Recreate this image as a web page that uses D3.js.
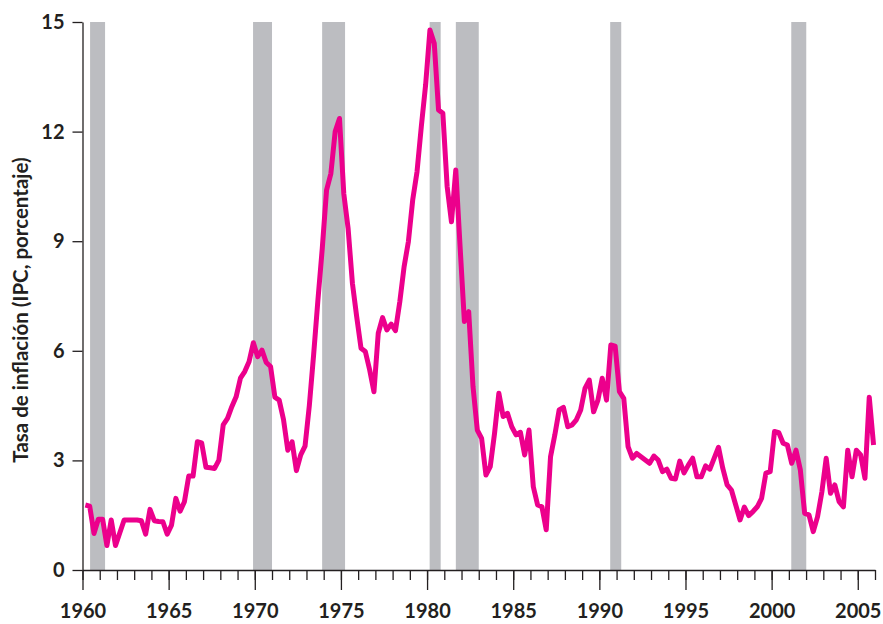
<!DOCTYPE html>
<html>
<head>
<meta charset="utf-8">
<script src="https://cdn.jsdelivr.net/npm/d3@7"></script>
<style>
  body { margin: 0; background: #fff; }
  svg { display: block; }
  text { font-family: Lato, "Open Sans", sans-serif; font-weight: 700; fill: #231f20; }
</style>
</head>
<body>
<div id="chart"></div>
<script>
// quarterly CPI inflation, first quarter 1960Q1 (values at Mar, Jun, Sep, Dec)
const startYear = 1960
const inflation = [
  1.78, 1.75, 1.00, 1.39,   // 1960
  1.39, 0.67, 1.37, 0.67,   // 1961
  1.02, 1.37, 1.37, 1.37,   // 1962
  1.37, 1.35, 0.98, 1.66,   // 1963
  1.35, 1.33, 1.32, 0.98,   // 1964
  1.23, 1.96, 1.61, 1.87,   // 1965
  2.57, 2.57, 3.51, 3.48,   // 1966
  2.81, 2.80, 2.78, 3.01,   // 1967
  3.97, 4.15, 4.47, 4.74,   // 1968
  5.25, 5.43, 5.70, 6.22,   // 1969
  5.84, 6.02, 5.68, 5.57,   // 1970
  4.73, 4.65, 4.12, 3.28,   // 1971
  3.51, 2.72, 3.15, 3.39,   // 1972
  4.50, 5.90, 7.40, 8.80,   // 1973
  10.40, 10.85, 12.00, 12.36, // 1974
  10.30, 9.35, 7.85, 6.93,  // 1975
  6.07, 5.98, 5.48, 4.88,   // 1976
  6.48, 6.91, 6.57, 6.73,   // 1977
  6.55, 7.34, 8.30, 8.99,   // 1978
  10.13, 10.90, 12.14, 13.28, // 1979
  14.78, 14.42, 12.59, 12.50, // 1980
  10.49, 9.53, 10.95, 8.85, // 1981
  6.80, 7.07, 5.02, 3.83,   // 1982
  3.60, 2.60, 2.83, 3.74,   // 1983
  4.84, 4.20, 4.29, 3.92,   // 1984
  3.70, 3.77, 3.15, 3.83,   // 1985
  2.28, 1.78, 1.73, 1.10,   // 1986
  3.10, 3.70, 4.38, 4.45,   // 1987
  3.92, 3.97, 4.11, 4.38,   // 1988
  4.97, 5.20, 4.33, 4.65,   // 1989
  5.25, 4.65, 6.16, 6.13,   // 1990
  4.88, 4.70, 3.38, 3.06,   // 1991
  3.19, 3.10, 3.01, 2.92,   // 1992
  3.12, 3.01, 2.69, 2.76,   // 1993
  2.51, 2.49, 2.98, 2.66,   // 1994
  2.87, 3.06, 2.55, 2.55,   // 1995
  2.85, 2.76, 3.06, 3.36,   // 1996
  2.78, 2.33, 2.19, 1.78,   // 1997
  1.37, 1.72, 1.49, 1.60,   // 1998
  1.73, 1.96, 2.65, 2.69,   // 1999
  3.79, 3.76, 3.47, 3.42,   // 2000
  2.92, 3.28, 2.74, 1.55,   // 2001
  1.51, 1.05, 1.46, 2.14,   // 2002
  3.06, 2.10, 2.33, 1.87,   // 2003
  1.73, 3.28, 2.55, 3.28,   // 2004
  3.15, 2.51, 4.73, 3.42    // 2005
]

// recession periods (decimal years)
const recessionStart = [1960.44, 1969.90, 1973.91, 1980.15, 1981.67, 1990.63, 2001.14]
const recessionEnd   = [1961.31, 1971.00, 1975.24, 1980.79, 1983.00, 1991.27, 2002.01]

const yTicks = [0, 3, 6, 9, 12, 15]
const xLabels = [1960, 1965, 1970, 1975, 1980, 1985, 1990, 1995, 2000, 2005]
const xMinor = d3.range(1960, 2007)
const yTitle = "Tasa de inflación (IPC, porcentaje)"

const lineColour = "#ec008c"
const bandColour = "#bcbdc1"
const inkColour = "#231f20"

var width = 883, height = 624
var x = d3.scaleLinear().domain([1960, 2006]).range([82.5, 875])
var y = d3.scaleLinear().domain([0, 15]).range([570, 22])

var svg = d3.select("#chart").append("svg")
    .attr("width", width)
    .attr("height", height)

// recession bands
svg.append("g").selectAll("rect")
  .data(recessionStart)
  .enter()
  .append("rect")
    .attr("x", function(d) { return x(d) })
    .attr("y", y(15))
    .attr("width", function(d, i) { return x(recessionEnd[i]) - x(d) })
    .attr("height", y(0) - y(15))
    .style("fill", bandColour)

// series points: one per quarter, placed at the quarter's last month
var series = inflation.map(function(v, i) {
  var yr = startYear + Math.floor(i / 4)
  var q = i % 4
  return { t: yr + (3 * q + 2) / 12, v: v }
})

var lineCoords = d3.line()
    .x(function(d) { return x(d.t) })
    .y(function(d) { return y(d.v) })

svg.append("path")
  .datum(series)
  .attr("fill", "none")
  .attr("stroke", lineColour)
  .attr("stroke-width", 5)
  .attr("stroke-linejoin", "round")
  .attr("d", lineCoords)

// x axis: minor yearly ticks, then major 5-year ticks with labels
var xMinorAxis = svg.append("g")
  .attr("transform", "translate(0," + y(0) + ")")
  .call(d3.axisBottom(x).tickValues(xMinor).tickSize(10).tickSizeOuter(0).tickFormat(""))
var xMajorAxis = svg.append("g")
  .attr("transform", "translate(0," + y(0) + ")")
  .call(d3.axisBottom(x).tickValues(xLabels).tickSize(20).tickSizeOuter(0).tickPadding(14).tickFormat(d3.format("d")))
xMajorAxis.select(".domain").remove()

// y axis
var yAxis = svg.append("g")
  .attr("transform", "translate(" + x(1960) + ",0)")
  .call(d3.axisLeft(y).tickValues(yTicks).tickSize(10).tickSizeOuter(0).tickPadding(8))

svg.selectAll(".tick line, .domain")
  .attr("stroke", inkColour)
  .attr("stroke-width", 1.3)
svg.selectAll(".tick text")
  .attr("fill", inkColour)
  .style("font-family", "Lato, 'Open Sans', sans-serif")
  .style("font-weight", 700)
  .style("font-size", "20px")

// y title
svg.append("text")
  .attr("transform", "translate(28,310) rotate(-90)")
  .attr("text-anchor", "middle")
  .style("font-size", "20.5px")
  .text(yTitle)
</script>
</body>
</html>
